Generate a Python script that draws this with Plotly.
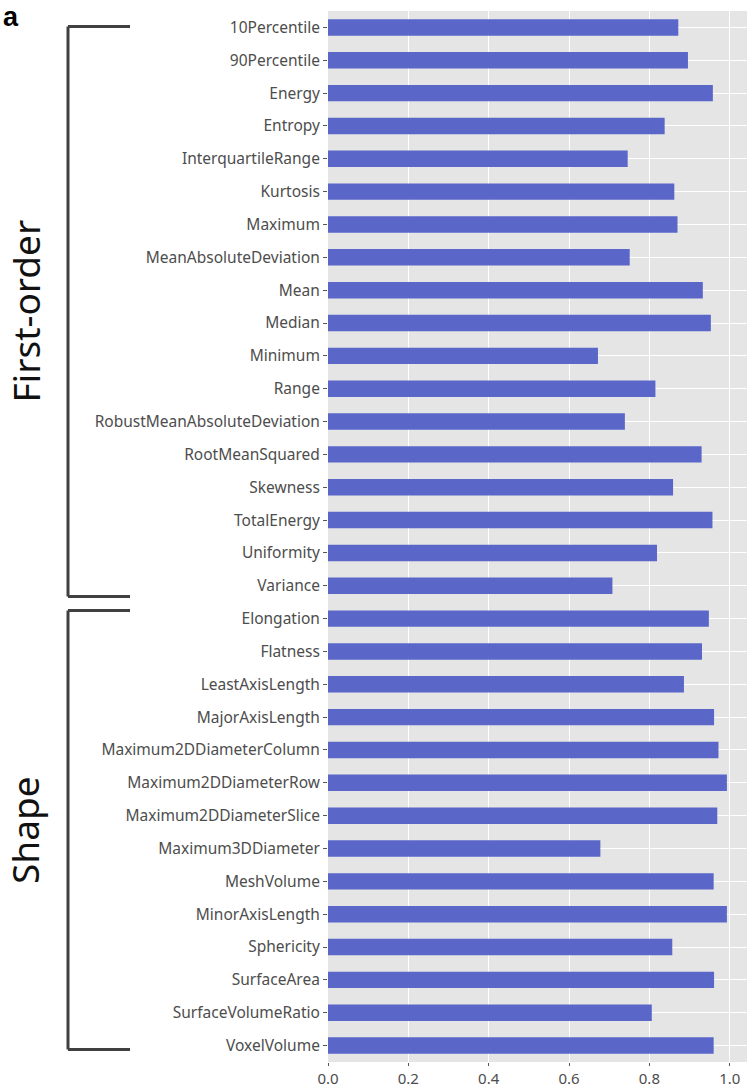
import plotly.graph_objects as go

features = [
    "10Percentile", "90Percentile", "Energy", "Entropy", "InterquartileRange",
    "Kurtosis", "Maximum", "MeanAbsoluteDeviation", "Mean", "Median", "Minimum",
    "Range", "RobustMeanAbsoluteDeviation", "RootMeanSquared", "Skewness",
    "TotalEnergy", "Uniformity", "Variance",
    "Elongation", "Flatness", "LeastAxisLength", "MajorAxisLength",
    "Maximum2DDiameterColumn", "Maximum2DDiameterRow", "Maximum2DDiameterSlice",
    "Maximum3DDiameter", "MeshVolume", "MinorAxisLength", "Sphericity",
    "SurfaceArea", "SurfaceVolumeRatio", "VoxelVolume",
]
values = [
    0.872, 0.896, 0.958, 0.838, 0.746,
    0.862, 0.870, 0.751, 0.933, 0.953, 0.672,
    0.815, 0.739, 0.930, 0.859,
    0.957, 0.819, 0.708,
    0.948, 0.931, 0.886, 0.961,
    0.972, 0.993, 0.969,
    0.678, 0.960, 0.993, 0.857,
    0.961, 0.806, 0.960,
]
groups = ["First-order"] * 18 + ["Shape"] * 14
x_ticks = [0.0, 0.2, 0.4, 0.6, 0.8, 1.0]
x_tick_labels = ["0.0", "0.2", "0.4", "0.6", "0.8", "1.0"]

BAR = "#5A66C8"
TXT = "#4D4D4D"
FONT = "Noto Sans, Open Sans, sans-serif"

fig = go.Figure(go.Bar(
    x=values, y=features, orientation="h", width=0.5,
    marker=dict(color=BAR, line=dict(width=0)),
))

# group brackets
bx0, bx1 = -0.6205, -0.4725  # paper x of bracket spine and arms
for g in ["First-order", "Shape"]:
    idx = [i for i, gg in enumerate(groups) if gg == g]
    top = idx[0] - 0.03 if idx[0] == 0 else idx[0] - 0.25
    bot = idx[-1] + 0.33 if g == "First-order" else idx[-1] + 0.12
    line = dict(color="#404040", width=3)
    fig.add_shape(type="line", xref="paper", yref="y", x0=bx0, x1=bx0, y0=top, y1=bot, line=line)
    fig.add_shape(type="line", xref="paper", yref="y", x0=bx0, x1=bx1, y0=top, y1=top, line=line)
    fig.add_shape(type="line", xref="paper", yref="y", x0=bx0, x1=bx1, y0=bot, y1=bot, line=line)
    fig.add_annotation(
        text=g, xref="paper", yref="y", x=-0.723, y=(top + bot) / 2,
        textangle=-90, showarrow=False, xanchor="center", yanchor="middle",
        font=dict(family=FONT, size=37, color="#111111"),
    )

fig.add_annotation(
    text="<b>a</b>", xref="paper", yref="paper", x=-0.78, y=1.0104,
    xanchor="left", yanchor="top", showarrow=False,
    font=dict(family="Liberation Sans, Arial, sans-serif", size=27, color="#000000"),
)

fig.update_layout(
    width=749, height=1090,
    margin=dict(l=328, r=2, t=11, b=28),
    paper_bgcolor="white", plot_bgcolor="#E5E5E5",
    showlegend=False, bargap=0.5,
    font=dict(family=FONT, color=TXT),
)
fig.update_xaxes(
    range=[0, 1.043], tickvals=x_ticks, ticktext=x_tick_labels, automargin=False,
    showgrid=True, gridcolor="white", gridwidth=1.2, zeroline=False,
    ticks="outside", ticklen=3, tickcolor="#555555", tickwidth=1,
    tickfont=dict(size=15, color=TXT, family=FONT), showline=False,
)
fig.update_yaxes(
    categoryorder="array", categoryarray=features, automargin=False,
    range=[len(features) - 0.5, -0.5],
    showgrid=True, gridcolor="white", gridwidth=1.2,
    ticks="outside", ticklen=4, tickcolor="#555555", tickwidth=1,
    tickfont=dict(size=15.5, color=TXT, family=FONT), showline=False,
)

fig.write_html(
    "out.html",
    config={"displayModeBar": False},
    post_script="document.body.style.margin='0px';document.body.style.overflow='hidden';",
)
